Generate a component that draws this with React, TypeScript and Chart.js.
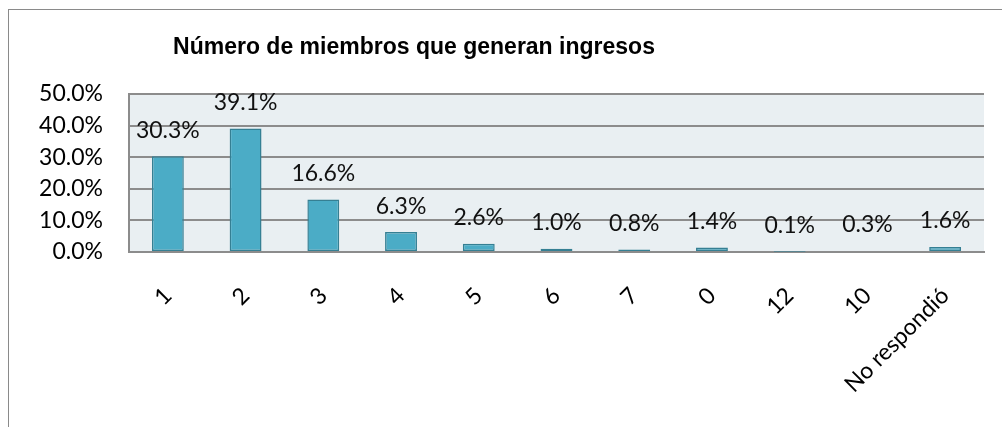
import React, { useEffect, useRef } from "react";
import { Chart, registerables } from "chart.js";

Chart.register(...registerables);

const TITLE = "Número de miembros que generan ingresos";
const categories = ["1", "2", "3", "4", "5", "6", "7", "0", "12", "10", "No respondió"];
const values = [30.3, 39.1, 16.6, 6.3, 2.6, 1.0, 0.8, 1.4, 0.1, 0.3, 1.6];
const yMax = 50;
const yStep = 10;

const FONT = "Lato";
const FSIZE = 23;

export default function App() {
  const ref = useRef<HTMLCanvasElement | null>(null);

  useEffect(() => {
    if (!ref.current) return;
    const bgPlugin = {
      id: "plotBg",
      beforeDraw(chart: any) {
        const { ctx, chartArea } = chart;
        ctx.save();
        ctx.fillStyle = "#E9EFF2";
        ctx.fillRect(chartArea.left, chartArea.top, chartArea.right - chartArea.left, chartArea.bottom - chartArea.top);
        ctx.restore();
      },
    };
    const labelPlugin = {
      id: "valLabels",
      afterDatasetsDraw(chart: any) {
        const { ctx } = chart;
        const meta = chart.getDatasetMeta(0);
        ctx.save();
        ctx.font = `${FSIZE}px ${FONT}`;
        ctx.fillStyle = "#111";
        ctx.textAlign = "center";
        ctx.textBaseline = "middle";
        meta.data.forEach((el: any, i: number) => {
          ctx.fillText(values[i].toFixed(1) + "%", el.x, el.y - 26);
        });
        ctx.restore();
      },
    };
    const titlePlugin = {
      id: "customTitle",
      afterDraw(chart: any) {
        const { ctx } = chart;
        ctx.save();
        ctx.font = `bold 23px "Liberation Sans", Arial, sans-serif`;
        ctx.fillStyle = "#000";
        ctx.textAlign = "center";
        ctx.textBaseline = "middle";
        ctx.fillText(TITLE, 405, 38);
        ctx.restore();
      },
    };
    const chart = new Chart(ref.current, {
      type: "bar",
      data: {
        labels: categories,
        datasets: [
          {
            data: values,
            backgroundColor: "#4BACC6",
            borderColor: "#357F93",
            borderWidth: 1.5,
            borderSkipped: false,
            barPercentage: 0.41,
            categoryPercentage: 1,
          },
        ],
      },
      options: {
        animation: false,
        responsive: false,
        maintainAspectRatio: false,
        layout: { padding: { top: 84, right: 18, left: 0, bottom: 0 } },
        plugins: { legend: { display: false }, title: { display: false }, tooltip: { enabled: false } },
        scales: {
          x: {
            grid: { display: false, drawTicks: false },
            border: { display: true, color: "#8C8C8C", width: 2 },
            ticks: {
              autoSkip: false,
              minRotation: 45,
              maxRotation: 45,
              padding: 30,
              color: "#000",
              font: { family: FONT, size: FSIZE },
            },
            afterFit(scale: any) {
              scale.height = 175;
            },
          },
          y: {
            min: 0,
            max: yMax,
            grid: { color: "#8C8C8C", lineWidth: 2, drawTicks: false },
            border: { display: true, color: "#8C8C8C", width: 2 },
            ticks: {
              stepSize: yStep,
              padding: 26,
              color: "#000",
              font: { family: FONT, size: FSIZE },
              callback: (v: any) => Number(v).toFixed(1) + "%",
            },
            afterFit(scale: any) {
              scale.width = 120;
            },
          },
        },
      },
      plugins: [bgPlugin, labelPlugin, titlePlugin],
    });
    return () => chart.destroy();
  }, []);

  return (
    <div
      style={{
        position: "absolute",
        left: 8,
        top: 9,
        width: 994,
        height: 418,
        borderLeft: "1px solid #8a8a8a",
        borderTop: "1px solid #8a8a8a",
        boxSizing: "border-box",
        background: "#fff",
      }}
    >
      <canvas ref={ref} width={993} height={417} style={{ display: "block" }} />
    </div>
  );
}
